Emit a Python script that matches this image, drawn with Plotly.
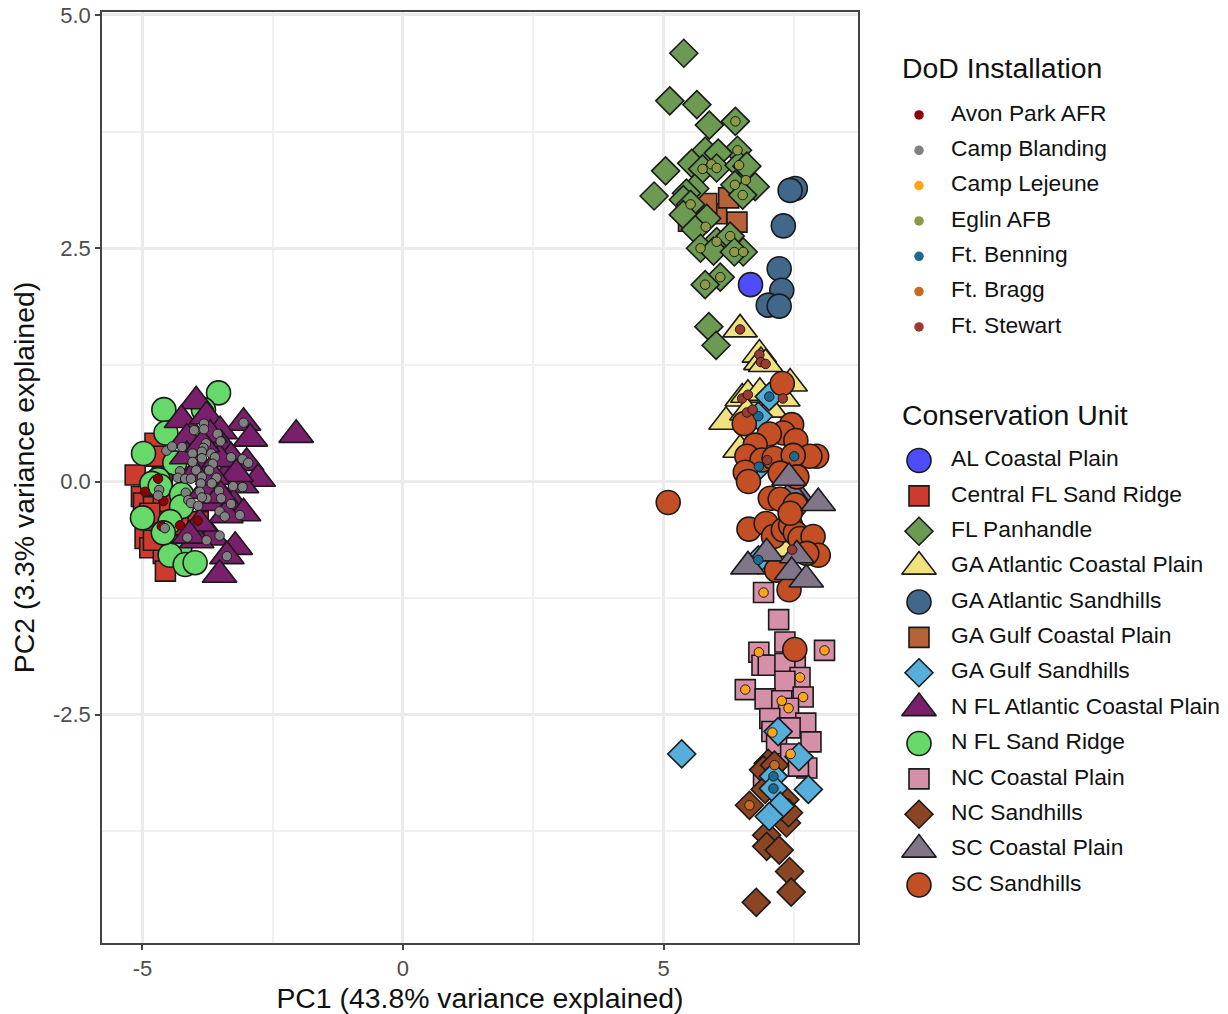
import plotly.graph_objects as go

W, H = 1228, 1014
FONT = "Liberation Sans"

# ---- conservation units: names, colours, symbols
unit_names = ["AL Coastal Plain", "Central FL Sand Ridge", "FL Panhandle", "GA Atlantic Coastal Plain",
              "GA Atlantic Sandhills", "GA Gulf Coastal Plain", "GA Gulf Sandhills",
              "N FL Atlantic Coastal Plain", "N FL Sand Ridge", "NC Coastal Plain", "NC Sandhills",
              "SC Coastal Plain", "SC Sandhills"]
unit_colors = ["#4d4dff", "#cc3b2e", "#6c9a53", "#f0e27f", "#41678a", "#b8623a", "#56aedb",
               "#7a1f6b", "#66d96a", "#d68fa8", "#8c4522", "#807589", "#c44f25"]
unit_symbols = ["circle", "square", "diamond", "triangle-up", "circle", "square", "diamond",
                "triangle-up", "circle", "square", "diamond", "triangle-up", "circle"]

# ---- PC scores per conservation unit
al_coastal = [(6.67, 2.11)]
central_fl = [(-5.14, 0.07), (-4.76, 0.41), (-4.76, 0.27), (-4.62, 0.04), (-5.02, -0.16), (-4.98, -0.23),
              (-4.79, -0.27), (-4.60, -0.23), (-4.92, -0.45), (-4.63, -0.48), (-4.31, -0.46), (-3.93, -0.43),
              (-4.95, -0.61), (-4.86, -0.71), (-4.60, -0.77), (-4.56, -0.96), (-4.73, -0.43), (-4.79, -0.63),
              (-4.86, -0.34)]
fl_panhandle = [(5.39, 4.59), (5.12, 4.08), (5.64, 4.04), (5.88, 3.82), (6.38, 3.86), (6.42, 3.55), (5.80, 3.54),
                (6.05, 3.52), (5.54, 3.41), (5.04, 3.33), (5.75, 3.35), (6.02, 3.36), (6.45, 3.39), (6.58, 3.23),
                (6.37, 3.18), (6.76, 3.16), (6.52, 3.07), (4.82, 3.06), (5.60, 3.14), (5.44, 3.09), (5.38, 3.02),
                (5.52, 2.97), (5.38, 2.86), (5.83, 2.82), (5.61, 2.70), (6.02, 2.57), (6.28, 2.63), (5.71, 2.50),
                (5.96, 2.47), (6.53, 2.46), (6.36, 2.46), (6.09, 2.19), (5.80, 2.11), (5.87, 1.66), (6.01, 1.46),
                (6.6, 3.38)]
ga_atl_coastal = [(6.47, 1.63), (6.84, 1.36), (6.87, 1.28), (6.96, 1.26), (7.43, 1.05), (6.51, 0.89), (6.62, 0.93),
                  (6.85, 0.95), (7.29, 0.89), (6.20, 0.64), (6.60, 0.74), (6.47, 0.34), (7.30, -0.72), (7.05, 0.77)]
ga_atl_sandhills = [(7.53, 3.14), (7.43, 3.12), (7.30, 2.74), (7.22, 2.28), (7.27, 2.05), (7.01, 1.89), (7.22, 1.88)]
ga_gulf_coastal = [(6.41, 2.78), (6.02, 2.87), (6.25, 3.04), (5.83, 2.98), (5.48, 2.79)]
ga_gulf_sandhills = [(7.03, 0.91), (6.82, 0.70), (6.83, 0.16), (6.82, -0.84), (5.35, -2.92), (7.20, -2.68),
                     (7.60, -2.95), (7.11, -3.16), (7.11, -3.29), (7.78, -3.30), (7.24, -3.48), (7.03, -3.59)]
n_fl_atl = [(-3.97, 0.86), (-4.25, 0.66), (-3.77, 0.70), (-3.06, 0.63), (-3.51, 0.54), (-2.93, 0.46), (-4.15, 0.46),
            (-3.50, 0.40), (-3.30, 0.26), (-3.00, 0.20), (-2.78, 0.03), (-3.35, 0.09), (-3.10, -0.04), (-3.63, -0.05),
            (-3.64, -0.23), (-3.25, -0.24), (-3.06, -0.34), (-3.40, -0.36), (-3.67, -0.60), (-3.96, -0.63),
            (-3.22, -0.70), (-3.38, -0.80), (-3.52, -1.00), (-4.15, 0.27), (-3.90, 0.16), (-2.05, 0.50),
            (-3.70, 0.50), (-4.00, 0.08), (-3.80, -0.10), (-3.52, 0.24), (-3.20, 0.08), (-3.90, -0.45), (-4.10, -0.58),
            (-3.65, 0.05), (-3.50, -0.15), (-3.85, 0.40)]
n_fl_sand = [(-4.59, 0.77), (-4.55, 0.52), (-3.54, 0.95), (-3.83, 0.77), (-4.98, 0.30), (-4.38, 0.20), (-4.70, 0.02),
             (-4.82, -0.02), (-4.66, -0.05), (-4.25, -0.14), (-4.25, -0.27), (-5.00, -0.39), (-4.47, -0.43),
             (-4.28, -0.70), (-4.47, -0.79), (-4.18, -0.89), (-3.99, -0.87), (-4.60, -0.55)]
nc_coastal = [(6.92, -1.19), (7.21, -1.48), (7.33, -1.72), (6.83, -1.83), (8.09, -1.81), (7.53, -1.91), (6.89, -1.97),
              (7.01, -1.97), (7.33, -1.95), (7.62, -2.10), (7.33, -2.14), (6.57, -2.23), (6.95, -2.33), (7.68, -2.31),
              (7.27, -2.35), (7.40, -2.43), (7.04, -2.54), (7.73, -2.59), (7.08, -2.68), (7.43, -2.64), (7.83, -2.79),
              (7.17, -2.81), (7.44, -2.92), (7.75, -3.07), (7.59, -3.05), (6.92, -3.20)]
nc_sandhills = [(6.65, -3.47), (7.01, -3.02), (6.92, -3.09), (7.13, -3.04), (7.33, -3.41), (7.36, -3.66), (7.40, -3.55),
                (6.98, -3.79), (6.98, -3.91), (7.22, -3.95), (7.42, -4.18), (7.45, -4.40), (6.78, -4.51), (6.95, -3.30)]
sc_coastal_back = [(7.40, 0.19), (7.56, -0.14), (7.46, -0.13)]
sc_coastal = [(7.41, 0.04), (7.97, -0.23), (6.98, -0.77), (7.56, -0.79),
              (6.62, -0.91), (7.46, -0.97), (7.74, -1.05)]
sc_sandhills = [(7.28, 1.05), (6.55, 0.62), (7.46, 0.61), (7.30, 0.52), (7.03, 0.51), (6.76, 0.39), (7.54, 0.44),
                (7.94, 0.27), (7.81, 0.27), (6.60, 0.27), (6.89, 0.23), (7.12, 0.25), (7.49, 0.28), (6.57, 0.10),
                (6.63, 0.00), (7.56, 0.05), (7.24, 0.09), (5.09, -0.225), (7.05, -0.18), (7.24, -0.19), (7.53, -0.25),
                (6.64, -0.51), (6.97, -0.45), (7.11, -0.59), (7.30, -0.52), (7.44, -0.47), (7.53, -0.55), (7.62, -0.61),
                (7.87, -0.59), (7.97, -0.79), (7.75, -0.77), (7.17, -0.95), (7.41, -1.16), (7.43, -0.34), (7.52, -1.80)]

# ---- installations: names, colours
inst_names = ["Avon Park AFR", "Camp Blanding", "Camp Lejeune", "Eglin AFB", "Ft. Benning", "Ft. Bragg", "Ft. Stewart"]
inst_colors = ["#8b0000", "#808080", "#ffa31a", "#8c9a45", "#1b6a8f", "#c96a22", "#9a3a30"]

# ---- sampled points per installation
avon_park = [(-4.70, 0.03), (-4.95, -0.11), (-4.60, -0.21), (-4.63, -0.48), (-4.28, -0.47), (-3.94, -0.42)]
camp_blanding = [(-3.06, 0.63), (-3.56, 0.51), (-3.50, 0.43), (-4.01, 0.55), (-3.82, 0.62), (-3.82, 0.56), (-3.78, 0.41),
                 (-3.83, 0.36), (-3.86, 0.32), (-4.54, 0.33), (-4.43, 0.375), (-4.24, 0.37), (-4.04, 0.30), (-3.86, 0.25),
                 (-3.68, 0.30), (-3.61, 0.26), (-3.65, 0.19), (-4.04, 0.21), (-3.30, 0.26), (-3.08, 0.24), (-2.97, 0.20),
                 (-4.28, 0.11), (-3.97, 0.12), (-3.72, 0.12), (-4.32, 0.04), (-4.18, 0.03), (-4.07, 0.03), (-3.86, 0.05),
                 (-3.58, 0.04), (-3.67, -0.02), (-3.88, -0.02), (-3.26, -0.05), (-3.08, -0.06), (-4.68, -0.09), (-4.70, -0.15),
                 (-4.17, -0.12), (-3.90, -0.11), (-3.53, -0.10), (-4.12, -0.20), (-4.07, -0.23), (-3.77, -0.18), (-3.86, -0.17),
                 (-3.49, -0.18), (-3.93, -0.26), (-3.30, -0.24), (-3.13, -0.36), (-3.52, -0.32), (-3.42, -0.375), (-4.57, -0.50),
                 (-4.14, -0.60), (-3.77, -0.63), (-3.52, -0.58), (-3.38, -0.80)]
camp_lejeune = [(6.92, -1.19), (6.83, -1.83), (8.09, -1.81), (7.62, -2.10), (6.57, -2.23), (7.68, -2.31), (7.27, -2.35),
                (7.40, -2.43), (7.09, -2.69), (7.44, -2.92)]
eglin = [(6.38, 3.86), (6.42, 3.55), (5.75, 3.35), (5.92, 3.40), (6.02, 3.36), (6.45, 3.39), (6.58, 3.23), (6.37, 3.18),
         (6.52, 3.07), (5.52, 2.97), (5.81, 2.73), (6.02, 2.57), (6.28, 2.63), (5.71, 2.50), (6.36, 2.46), (6.53, 2.46),
         (6.09, 2.19), (5.80, 2.11)]
ft_benning = [(7.03, 0.91), (6.82, 0.70), (6.83, 0.16), (7.51, 0.27), (6.82, -0.84), (7.11, -3.16), (7.11, -3.29)]
ft_bragg = [(6.65, -3.47), (7.13, -3.04)]
ft_stewart = [(6.47, 1.63), (6.84, 1.36), (6.87, 1.28), (6.96, 1.26), (6.51, 0.89), (6.62, 0.93), (7.29, 0.89), (6.60, 0.74),
              (6.71, 0.77), (6.99, 0.23), (7.47, -0.73)]

# ---- axes
x_range = [-5.777, 8.733]
y_range = [-4.946, 5.032]
x_ticks = [-5, 0, 5]
x_tick_labels = ["-5", "0", "5"]
y_ticks = [-2.5, 0, 2.5, 5]
y_tick_labels = ["-2.5", "0.0", "2.5", "5.0"]

sizes = {"circle": 24, "square": 20, "diamond": 21.5, "triangle-up": 30}
DOT = 9.5

fig = go.Figure()

# draw order of the shapes, back to front
layers = [("Central FL Sand Ridge", central_fl), ("N FL Sand Ridge", n_fl_sand), ("N FL Atlantic Coastal Plain", n_fl_atl),
          ("GA Gulf Coastal Plain", ga_gulf_coastal), ("FL Panhandle", fl_panhandle), ("AL Coastal Plain", al_coastal),
          ("GA Atlantic Sandhills", ga_atl_sandhills), ("GA Atlantic Coastal Plain", ga_atl_coastal),
          ("NC Coastal Plain", nc_coastal), ("NC Sandhills", nc_sandhills), ("GA Gulf Sandhills", ga_gulf_sandhills),
          ("SC Coastal Plain", sc_coastal_back), ("SC Sandhills", sc_sandhills), ("SC Coastal Plain", sc_coastal)]
for name, pts in layers:
    i = unit_names.index(name)
    sym = unit_symbols[i]
    fig.add_trace(go.Scatter(x=[p[0] for p in pts], y=[p[1] for p in pts], mode="markers", name=name, showlegend=False,
                             marker=dict(symbol=sym, size=sizes[sym], color=unit_colors[i], line=dict(color="#1a1a1a", width=1.6))))

inst_points = [avon_park, camp_blanding, camp_lejeune, eglin, ft_benning, ft_bragg, ft_stewart]
for name, col, pts in zip(inst_names, inst_colors, inst_points):
    fig.add_trace(go.Scatter(x=[p[0] for p in pts], y=[p[1] for p in pts], mode="markers", name=name, showlegend=False,
                             marker=dict(symbol="circle", size=DOT, color=col, line=dict(color="#1a1a1a", width=1))))

# ---- legends, each on its own small categorical axis
LEG_MARK, LEG_TEXT = 0, 32
for cats, axx, axy in [(inst_names, "x2", "y2"), (unit_names, "x3", "y3")]:
    is_unit = cats is unit_names
    if is_unit:
        syms, cols, szs = unit_symbols, unit_colors, [sizes[s] for s in unit_symbols]
        lines = dict(color="#1a1a1a", width=1.6)
    else:
        syms, cols, szs = ["circle"] * 7, inst_colors, [9.5] * 7
        lines = dict(width=0)
    fig.add_trace(go.Scatter(x=[LEG_MARK] * len(cats), y=cats, xaxis=axx, yaxis=axy, mode="markers", showlegend=False,
                             cliponaxis=False, marker=dict(symbol=syms, size=szs, color=cols, opacity=1, line=lines)))
    fig.add_trace(go.Scatter(x=[LEG_TEXT] * len(cats), y=cats, xaxis=axx, yaxis=axy, mode="text", text=cats,
                             textposition="middle right", showlegend=False, cliponaxis=False,
                             textfont=dict(family=FONT, size=22.8, color="#111111")))

px_x = lambda a, b: [a / W, b / W]
px_y = lambda top, bot: [1 - bot / H, 1 - top / H]
hidden = dict(visible=False, fixedrange=True, automargin=False)

fig.update_layout(
    width=W, height=H, margin=dict(l=0, r=0, t=0, b=0, autoexpand=False), paper_bgcolor="white", plot_bgcolor="white",
    font=dict(family=FONT, color="#111111"), showlegend=False,
    xaxis=dict(domain=px_x(102, 858), range=x_range, tickvals=x_ticks, ticktext=x_tick_labels, zeroline=False, automargin=False,
               showgrid=True, gridcolor="#ebebeb", gridwidth=3, ticks="outside", ticklen=5, tickwidth=1.5, tickcolor="#444444",
               tickfont=dict(size=22, color="#4d4d4d"), showline=True, linecolor="#444444", linewidth=1.5, mirror=True,
               minor=dict(tickvals=[-2.5, 2.5, 7.5], showgrid=True, gridcolor="#f0f0f0", gridwidth=1.5, ticks=""),
               title=dict(text="PC1 (43.8% variance explained)", font=dict(size=28.4, color="#111111"), standoff=10)),
    yaxis=dict(domain=px_y(12, 943), range=y_range, tickvals=y_ticks, ticktext=y_tick_labels, zeroline=False, automargin=False,
               showgrid=True, gridcolor="#ebebeb", gridwidth=3, ticks="outside", ticklen=5, tickwidth=1.5, tickcolor="#444444",
               tickfont=dict(size=22, color="#4d4d4d"), showline=True, linecolor="#444444", linewidth=1.5, mirror=True,
               minor=dict(tickvals=[-3.75, -1.25, 1.25, 3.75], showgrid=True, gridcolor="#f0f0f0", gridwidth=1.5, ticks=""),
               title=dict(text="PC2 (3.3% variance explained)", font=dict(size=28.4, color="#111111"), standoff=10)),
    xaxis2=dict(domain=px_x(902, 1228), range=[-17, 309], anchor="y2", **hidden),
    yaxis2=dict(domain=px_y(97.3, 344.6), type="category", categoryorder="array", categoryarray=inst_names,
                range=[6.5, -0.5], anchor="x2", **hidden),
    xaxis3=dict(domain=px_x(902, 1228), range=[-17, 309], anchor="y3", **hidden),
    yaxis3=dict(domain=px_y(442.8, 902.7), type="category", categoryorder="array", categoryarray=unit_names,
                range=[12.5, -0.5], anchor="x3", **hidden),
    annotations=[
        dict(text="DoD Installation", xref="paper", yref="paper", x=900 / W, y=1 - 68.5 / H, xanchor="left", yanchor="middle",
             showarrow=False, font=dict(size=28.4, color="#111111")),
        dict(text="Conservation Unit", xref="paper", yref="paper", x=900 / W, y=1 - 414.5 / H, xanchor="left", yanchor="middle",
             showarrow=False, font=dict(size=28.4, color="#111111")),
    ],
)

fig.write_html("out.html", config={"displayModeBar": False}, post_script="document.body.style.margin='0';")
